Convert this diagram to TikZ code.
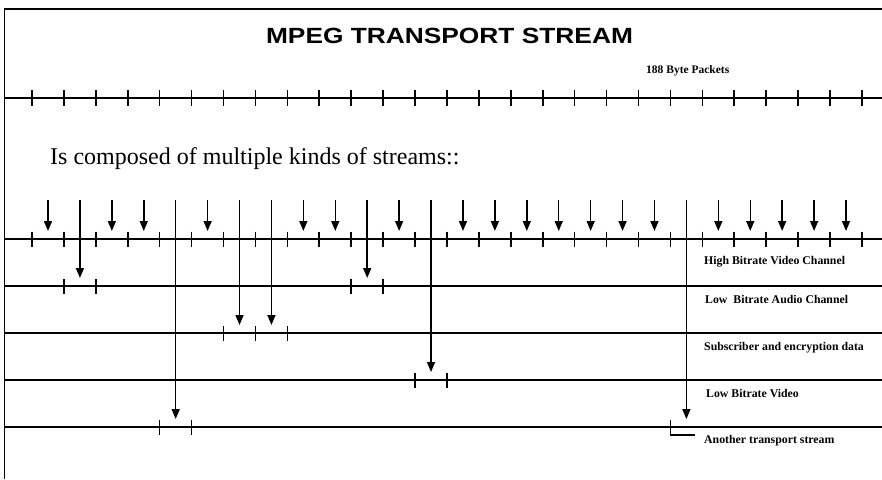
\documentclass[tikz,border=0pt]{standalone}
\usepackage{fontspec}
\setmainfont{Liberation Serif}
\newfontfamily\titlefont{Liberation Sans}
\usetikzlibrary{arrows.meta}
\begin{document}
\begin{tikzpicture}[x=1pt,y=-1pt,
  frameline/.style={line width=1.2pt},
  streamline/.style={line width=1.6pt},
  tickmark/.style={line width=1.6pt},
  feed/.style={line width=1.5pt,-{Triangle[width=8pt,length=10pt]}},
  lbl/.style={anchor=base west,inner sep=0pt,font=\fontsize{11.8}{13}\selectfont\bfseries}]
\useasboundingbox (0,0) rectangle (882,479);
% frame
\coordinate (fbl) at (4.5,479);
\coordinate (ftl) at (4.5,9);
\coordinate (ftr) at (882,9);
\draw[frameline] (fbl) -- (ftl) -- (ftr);
% title and texts
\node[anchor=base,inner sep=0pt] (title) at (449.5,43)
  {\titlefont\bfseries\fontsize{22}{24}\selectfont\scalebox{1.196}[1]{MPEG TRANSPORT STREAM}};
\node[anchor=base west,inner sep=0pt,font=\fontsize{11.5}{13}\selectfont\bfseries] (pk) at (646,73) {188 Byte Packets};
\node[anchor=base west,inner sep=0pt,font=\fontsize{24}{28}\selectfont] (sub) at (50,164) {Is composed of multiple kinds of streams::};
% top transport stream
\coordinate (tsw) at (4.5,98);
\coordinate (tse) at (882,98);
\draw[streamline] (tsw) -- (tse);
\foreach \i in {0,...,26} {
  \coordinate (tt\i) at ({32+31.92*\i},90);
  \draw[tickmark] (tt\i) -- ++(0,16);
}
% multiplexed stream
\coordinate (msw) at (4.5,239);
\coordinate (mse) at (882,239);
\draw[streamline] (msw) -- (mse);
\foreach \i in {0,...,26} {
  \coordinate (mt\i) at ({32+31.92*\i},231.5);
  \draw[tickmark] (mt\i) -- ++(0,15);
}
% short arrows into the multiplexed stream
\foreach \i in {0,2,3,5,8,9,11,13,14,15,16,17,18,19,21,22,23,24,25} {
  \coordinate (sa\i) at ({48+31.92*\i},200);
  \coordinate (sb\i) at ({48+31.92*\i},231);
  \draw[feed] (sa\i) -- (sb\i);
}
% sub-stream lines
\foreach \n/\y in {1/286,2/333,3/380,4/427} {
  \coordinate (s\n w) at (4.5,\y);
  \coordinate (s\n e) at (882,\y);
  \draw[streamline] (s\n w) -- (s\n e);
}
% labels
\node[lbl] (l0) at (704,264) {High Bitrate Video Channel};
\node[lbl] (l1) at (705,303) {Low\ \ Bitrate Audio Channel};
\node[lbl] (l2) at (704,350) {Subscriber and encryption data};
\node[lbl] (l3) at (706,397) {Low Bitrate Video};
\node[lbl] (l4) at (704,443) {Another transport stream};
% long arrows to sub-streams
\foreach \i/\y in {1/286,4/427,6/333,7/333,10/286,12/380,20/427} {
  \coordinate (la\i) at ({48+31.92*\i},200);
  \coordinate (lb\i) at ({48+31.92*\i},\y-8);
  \draw[feed] (la\i) -- (lb\i);
}
% packet boundary ticks on sub-streams
\foreach \k/\y in {1/286,2/286,10/286,11/286,6/333,7/333,8/333,12/380,13/380,4/427,5/427,20/427} {
  \coordinate (st\k-\y) at ({32+31.92*\k},\y-7.5);
  \draw[tickmark] (st\k-\y) -- ++(0,15);
}
% bracket under the other transport stream packet
\coordinate (bra) at ({32+31.92*20},427);
\coordinate (brb) at ({32+31.92*20},435);
\coordinate (brc) at ({32+31.92*20+25},435);
\draw[line width=1.2pt] (bra) -- (brb) -- (brc);
\end{tikzpicture}
\end{document}
